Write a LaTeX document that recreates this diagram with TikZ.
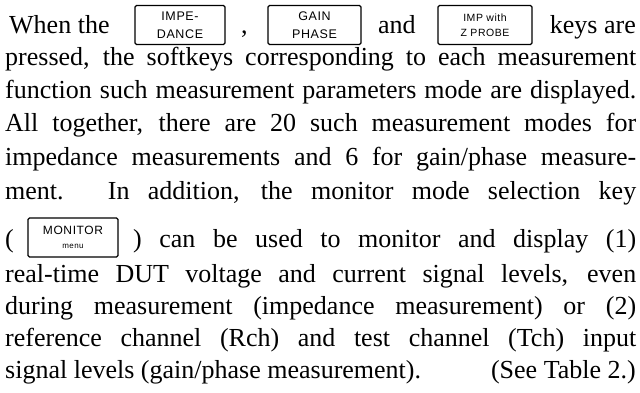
\documentclass[tikz,border=0pt]{standalone}
\usepackage{fontspec}
\setmainfont{Liberation Serif}
\newfontfamily\keyfont[LetterSpace=5]{Liberation Sans}
\tikzset{
  keybox/.style={draw,line width=1.1pt,rounded corners=1.5pt,inner sep=0pt,
    minimum width=90pt,minimum height=39pt,align=center,
    font=\keyfont\fontsize{12.5}{18}\selectfont},
  txt/.style={anchor=base west,inner sep=0pt,font=\fontsize{26}{33}\selectfont}
}
\newcommand{\jline}[2]{\makebox[#1][s]{#2}}
\begin{document}
\begin{tikzpicture}[x=1pt,y=-1pt]
  \useasboundingbox (0,0) rectangle (640,393);
  %% first line, with the keys
  \node[txt] (when) at (9,34) {When the};
  \node[keybox] (impkey) at (180,25) {IMPE-\\DANCE};
  \node[txt] (comma) at (241,34) {,};
  \node[keybox,minimum width=93pt] (gainkey) at (314.5,25) {GAIN\\PHASE};
  \node[txt] (andw) at (378,34) {and};
  \node[keybox,minimum width=94pt,font=\keyfont\fontsize{10.5}{15}\selectfont] (zkey) at (485,25) {IMP with\\Z PROBE};
  \node[txt,anchor=base east] (keysare) at (636,34) {keys are};
  %% body
  \node[txt] (l2) at (5,66) {\jline{631pt}{pressed, the softkeys corresponding to each measurement}};
  \node[txt] (l3) at (5,99) {\jline{631pt}{function such measurement parameters mode are displayed.}};
  \node[txt] (l4) at (5,132) {\jline{631pt}{All together, there are 20 such measurement modes for}};
  \node[txt] (l5) at (5,165) {\jline{631pt}{impedance measurements and 6 for gain/phase measure-}};
  \node[txt] (l6) at (5,199) {\jline{631pt}{ment. In addition, the monitor mode selection key}};
  %% monitor key line
  \node[txt] (lparen) at (5,247) {(};
  \node[keybox,font=\keyfont\fontsize{12}{14}\selectfont] (monkey) at (73,237.5) {MONITOR\\{\fontsize{8}{9}\selectfont menu}};
  \node[txt] (l7) at (133,247) {\jline{503pt}{) can be used to monitor and display (1)}};
  %% rest
  \node[txt] (l8) at (5,282) {\jline{631pt}{real-time DUT voltage and current signal levels, even}};
  \node[txt] (l9) at (5,314) {\jline{631pt}{during measurement (impedance measurement) or (2)}};
  \node[txt] (l10) at (5,346) {\jline{631pt}{reference channel (Rch) and test channel (Tch) input}};
  \node[txt] (l11) at (5,378) {signal levels (gain/phase measurement).};
  \node[txt,anchor=base east] (seetab) at (636,378) {(See Table 2.)};
\end{tikzpicture}
\end{document}
